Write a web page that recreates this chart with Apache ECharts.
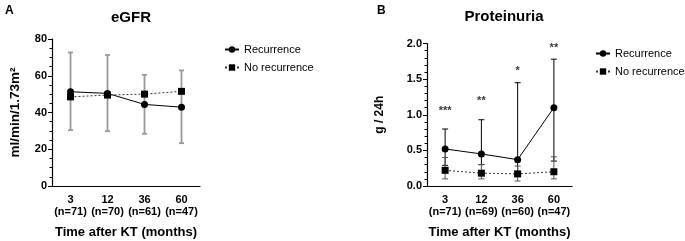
<!DOCTYPE html>
<html>
<head>
<meta charset="utf-8">
<script src="https://cdn.jsdelivr.net/npm/echarts@6/dist/echarts.min.js"></script>
<style>
  html, body { margin: 0; padding: 0; background: #fff; }
  #chart { width: 685px; height: 241px; }
</style>
</head>
<body>
<div id="chart"></div>
<script>
let myChart = echarts.init(document.getElementById('chart'));

// categories (months after KT)
const monthsA = ['3\n(n=71)', '12\n(n=70)', '36\n(n=61)', '60\n(n=47)'];
const monthsB = ['3\n(n=71)', '12\n(n=69)', '36\n(n=60)', '60\n(n=47)'];

// eGFR
const egfrRec = [51.3, 50.4, 44.4, 42.9];
const egfrNoRec = [48.5, 49.5, 50.0, 51.5];
const egfrLow = [30.4, 29.8, 28.4, 23.3];
const egfrHigh = [72.7, 71.3, 60.5, 62.9];

// proteinuria
const protRec = [0.52, 0.45, 0.37, 1.10];
const protRecLow = [0.29, 0.30, 0.15, 0.35];
const protRecHigh = [0.80, 0.93, 1.45, 1.78];
const protNoRec = [0.22, 0.18, 0.17, 0.20];
const protNoRecLow = [0.10, 0.10, 0.07, 0.10];
const protNoRecHigh = [0.40, 0.30, 0.28, 0.41];

// significance stars
const starText = ['***', '**', '*', '**'];
const starPos = [1.05, 1.2, 1.62, 1.94];

const font = 'Liberation Sans, Arial, sans-serif';

function errBars(color, width, cap) {
    return function (params, api) {
        let x = api.value(0);
        let lo = api.coord([x, api.value(1)]);
        let hi = api.coord([x, api.value(2)]);
        let st = { stroke: color, lineWidth: width };
        return {
            type: 'group',
            children: [
                { type: 'line', shape: { x1: hi[0], y1: hi[1], x2: lo[0], y2: lo[1] }, style: st },
                { type: 'line', shape: { x1: hi[0] - cap, y1: hi[1], x2: hi[0] + cap, y2: hi[1] }, style: st },
                { type: 'line', shape: { x1: lo[0] - cap, y1: lo[1], x2: lo[0] + cap, y2: lo[1] }, style: st }
            ]
        };
    };
}

function bars(low, high) {
    return low.map((v, i) => [i, v, high[i]]);
}

function xAxisFor(idx, cats) {
    return {
        type: 'category',
        gridIndex: idx,
        data: cats,
        boundaryGap: true,
        axisLine: { lineStyle: { color: '#000', width: 1.2 } },
        axisTick: { alignWithLabel: true, interval: 0, length: 4, lineStyle: { color: '#000' } },
        axisLabel: { interval: 0, color: '#000', fontFamily: font, fontWeight: 'bold', fontSize: 11, lineHeight: 12, margin: 8 },
        name: 'Time after KT (months)',
        nameLocation: 'middle',
        nameGap: 40,
        nameTextStyle: { color: '#000', fontFamily: font, fontWeight: 'bold', fontSize: 13 }
    };
}

function yAxisFor(idx, max, interval, name, gap, fmt, nameSize) {
    return {
        type: 'value',
        gridIndex: idx,
        min: 0,
        max: max,
        interval: interval,
        splitLine: { show: false },
        axisLine: { show: true, lineStyle: { color: '#000', width: 1.2 } },
        axisTick: { show: true, length: 4, lineStyle: { color: '#000' } },
        minorTick: { show: true, splitNumber: idx === 0 ? 4 : 5, length: 2.5, lineStyle: { color: '#000' } },
        axisLabel: { color: '#000', fontFamily: font, fontWeight: 'bold', fontSize: 11, margin: 5, formatter: fmt },
        name: name,
        nameLocation: 'middle',
        nameGap: gap,
        nameTextStyle: { color: '#000', fontFamily: font, fontWeight: 'bold', fontSize: nameSize }
    };
}

myChart.setOption({
    animation: false,
    textStyle: { fontFamily: font },
    title: [
        { text: 'A', left: 0, top: 0, textStyle: { fontSize: 12, fontWeight: 'bold', color: '#000' } },
        { text: 'eGFR', left: 126, top: 5, textAlign: 'center', textStyle: { fontSize: 15, fontWeight: 'bold', color: '#000' } },
        { text: 'B', left: 372, top: 0, textStyle: { fontSize: 12, fontWeight: 'bold', color: '#000' } },
        { text: 'Proteinuria', left: 499, top: 4, textAlign: 'center', textStyle: { fontSize: 15, fontWeight: 'bold', color: '#000' } }
    ],
    legend: [
        {
            data: ['Recurrence', 'No recurrence'],
            left: 219, top: 39, orient: 'vertical', itemGap: 7,
            itemWidth: 14, itemHeight: 8,
            textStyle: { fontSize: 11, color: '#000', fontFamily: font }
        },
        {
            data: ['Recurrence ', 'No recurrence '],
            left: 590, top: 43, orient: 'vertical', itemGap: 7,
            itemWidth: 14, itemHeight: 8,
            textStyle: { fontSize: 11, color: '#000', fontFamily: font }
        }
    ],
    grid: [
        { left: 52, top: 39, width: 148, height: 147, outerBoundsMode: 'none', containLabel: false },
        { left: 427, top: 43.5, width: 145, height: 142.5, outerBoundsMode: 'none', containLabel: false }
    ],
    xAxis: [xAxisFor(0, monthsA), xAxisFor(1, monthsB)],
    yAxis: [
        yAxisFor(0, 80, 20, 'ml/min/1.73m²', 30, null, 13.5),
        yAxisFor(1, 2, 0.5, 'g / 24h', 41, v => v.toFixed(1), 12)
    ],
    series: [
        {
            type: 'custom', xAxisIndex: 0, yAxisIndex: 0, z: 1,
            renderItem: errBars('#999', 1.8, 2.5),
            encode: { x: 0, y: [1, 2] },
            data: bars(egfrLow, egfrHigh)
        },
        {
            name: 'Recurrence', type: 'line', xAxisIndex: 0, yAxisIndex: 0, z: 3,
            data: egfrRec, symbol: 'circle', symbolSize: 7,
            lineStyle: { color: '#000', width: 1 }, itemStyle: { color: '#000' }
        },
        {
            name: 'No recurrence', type: 'line', xAxisIndex: 0, yAxisIndex: 0, z: 3,
            data: egfrNoRec, symbol: 'rect', symbolSize: 7,
            lineStyle: { color: '#333', width: 1, type: [2, 2] }, itemStyle: { color: '#000' }
        },
        {
            type: 'custom', xAxisIndex: 1, yAxisIndex: 1, z: 1,
            renderItem: errBars('#000', 1, 3),
            encode: { x: 0, y: [1, 2] },
            data: bars(protRecLow, protRecHigh)
        },
        {
            type: 'custom', xAxisIndex: 1, yAxisIndex: 1, z: 1,
            renderItem: errBars('#555', 1, 3),
            encode: { x: 0, y: [1, 2] },
            data: bars(protNoRecLow, protNoRecHigh)
        },
        {
            name: 'Recurrence ', type: 'line', xAxisIndex: 1, yAxisIndex: 1, z: 3,
            data: protRec, symbol: 'circle', symbolSize: 7,
            lineStyle: { color: '#000', width: 1 }, itemStyle: { color: '#000' }
        },
        {
            name: 'No recurrence ', type: 'line', xAxisIndex: 1, yAxisIndex: 1, z: 3,
            data: protNoRec, symbol: 'rect', symbolSize: 7,
            lineStyle: { color: '#333', width: 1, type: [2, 2] }, itemStyle: { color: '#000' }
        },
        {
            type: 'scatter', xAxisIndex: 1, yAxisIndex: 1, z: 4,
            symbolSize: 1, itemStyle: { color: 'transparent' },
            label: {
                show: true, position: 'inside', color: '#000', fontWeight: 'bold', fontSize: 11,
                formatter: p => starText[p.dataIndex]
            },
            data: starPos.map((v, i) => [i, v])
        }
    ]
});
</script>
</body>
</html>
